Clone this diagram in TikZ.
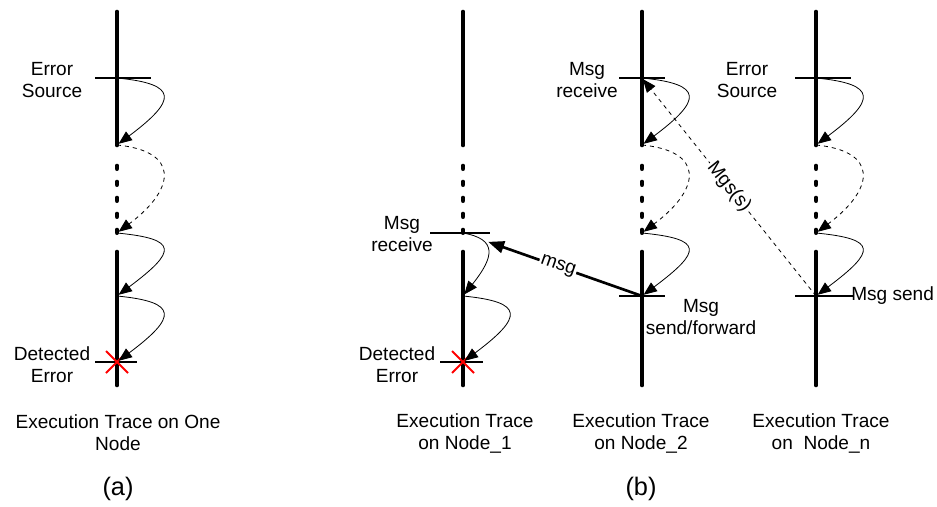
\documentclass[tikz,border=0pt]{standalone}
\usepackage{fontspec}
\setmainfont{Liberation Sans}
\usepackage{tikz}
\usetikzlibrary{arrows.meta, calc}

\begin{document}
\begin{tikzpicture}[
    x=0.75pt, y=-0.75pt,
    font=\fontsize{14.3}{16.5}\selectfont,
    trace/.style={line width=3.5pt, line cap=round},
    gap/.style={line width=3.5pt, line cap=round, dash pattern=on 2pt off 10pt},
    tick/.style={line width=1.6pt},
    hop/.style={-{Triangle[length=10pt, width=8pt]}, line width=0.6pt, shorten >=1.5pt},
    skip/.style={hop, dashed},
    msgline/.style={-{Triangle[length=12pt, width=9pt]}, line width=2pt, shorten >=20pt},
    far/.style={-{Triangle[length=10pt, width=8pt]}, line width=0.6pt, dashed, shorten >=1pt},
    lab/.style={align=center, inner sep=1pt},
    onit/.style={fill=white, inner sep=1pt, sloped},
    cross/.style={draw=red, line width=1.5pt},
    tag/.style={font=\fontsize{19}{23}\selectfont},
  ]
  \useasboundingbox (0,0) rectangle (937,506);
  % ------------------------------------------------------------------ the four time lines
  \foreach \t/\x in {a/117, p/463, q/642, r/816} {
    \coordinate (\t-top) at (\x,12);
    \coordinate (\t-0) at (\x,78);
    \coordinate (\t-1) at (\x,145);
    \coordinate (\t-2) at (\x,233);
    \coordinate (\t-3) at (\x,296);
    \coordinate (\t-4) at (\x,362);
    \coordinate (\t-bot) at (\x,385);
    \draw[trace] (\t-top) -- (\t-1);
    \draw[gap] ($(\t-1)+(0,21)$) -- (\t-2);
    \draw[trace] ($(\t-2)+(0,19)$) -- (\t-bot);
  }
  % ------------------------------------------------------------------ event ticks
  \foreach \e/\l/\r in {a-0/22/34, a-4/22/20, p-2/33/27, p-4/23/20, q-0/23/23, q-3/23/23, r-0/21/35, r-3/21/37} {
    \draw[tick] ($(\e)+(-\l,0)$) -- ($(\e)+(\r,0)$);
  }
  \foreach \e in {a-4, p-4} {
    \draw[cross] ($(\e)+(-11,-11)$) -- ($(\e)+(11,11)$);
    \draw[cross] ($(\e)+(-11,11)$) -- ($(\e)+(11,-11)$);
  }
  % ------------------------------------------------------------------ steps along each trace
  \foreach \t/\i/\j/\s in {a/0/1/hop, a/1/2/skip, a/2/3/hop, a/3/4/hop,
                           p/3/4/hop,
                           q/0/1/hop, q/1/2/skip, q/2/3/hop,
                           r/0/1/hop, r/1/2/skip, r/2/3/hop} {
    \draw[\s] (\t-\i) .. controls +(62,6) and +(60,-45) .. (\t-\j);
  }
  \draw[hop] (p-2) .. controls +(34,6) and +(32,-40) .. (p-3);
  % ------------------------------------------------------------------ messages between nodes
  \draw[msgline] (q-3) -- (p-2) node[onit, pos=0.47] {msg};
  \draw[far] (r-3) -- (q-0) node[onit, pos=0.5] {Mgs(s)};
  % ------------------------------------------------------------------ labels
  \node[lab] (a-src) at (52,80) {Error\\Source};
  \node[lab] (a-det) at (52,365) {Detected\\Error};
  \node[lab] (p-rcv) at (402,234) {Msg\\receive};
  \node[lab] (p-det) at (397,365) {Detected\\Error};
  \node[lab] (q-rcv) at (587,80) {Msg\\receive};
  \node[lab] (q-snd) at (701,317) {Msg\\send/forward};
  \node[lab] (r-src) at (747,80) {Error\\Source};
  \node[lab, anchor=west, inner sep=0pt] (r-snd) at (851,296) {Msg send};
  \node[lab] (a-cap) at (118,433) {Execution Trace on One\\Node};
  \node[lab] (p-cap) at (465,433) {Execution Trace\\on Node\_1};
  \node[lab] (q-cap) at (641,433) {Execution Trace\\on Node\_2};
  \node[lab] (r-cap) at (821,433) {Execution Trace\\on\ \ Node\_n};
  \node[lab, tag] (a-tag) at (118,489) {(a)};
  \node[lab, tag] (b-tag) at (641,489) {(b)};
\end{tikzpicture}
\end{document}
